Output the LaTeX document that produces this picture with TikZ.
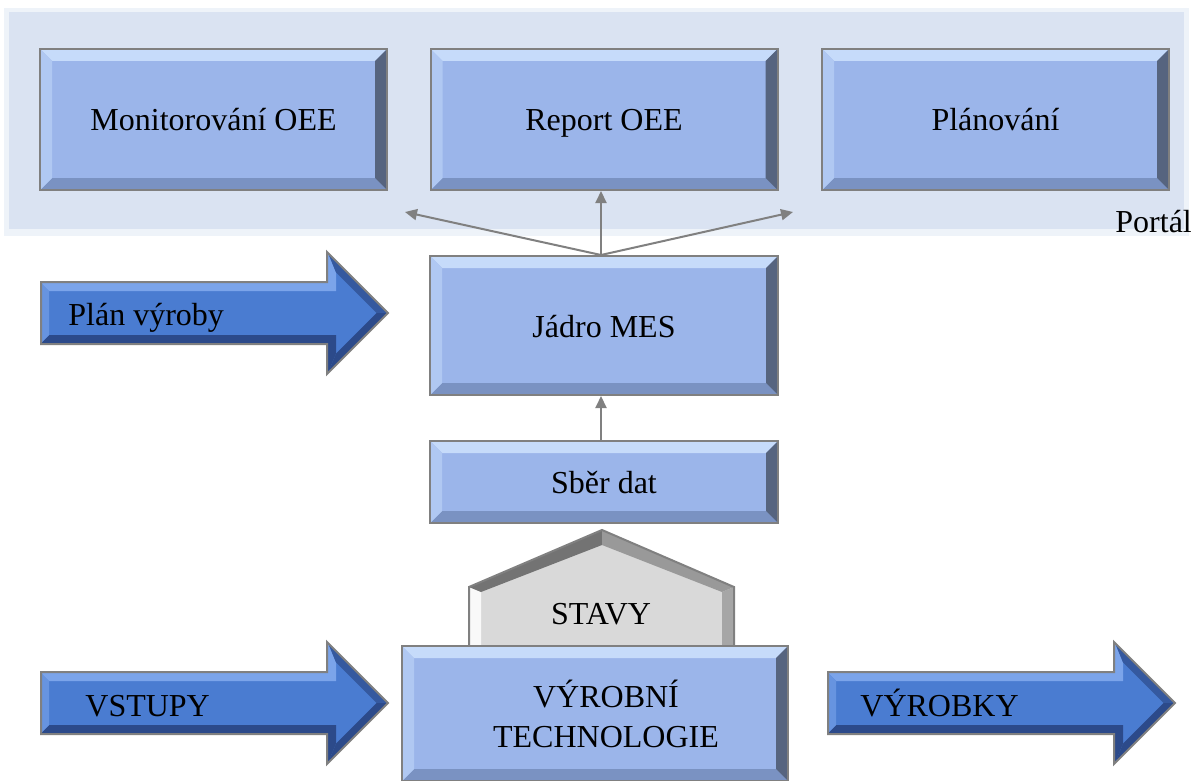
\documentclass[tikz,border=0pt]{standalone}
\usepackage{fontspec}
\setmainfont{Liberation Serif}
\usetikzlibrary{shapes.arrows, arrows.meta, positioning}
\definecolor{portalbg}{HTML}{DAE3F2}
\definecolor{boxblue}{HTML}{9BB5EA}
\definecolor{boxtop}{HTML}{C6DBFA}
\definecolor{boxleft}{HTML}{B0C8F2}
\definecolor{boxbot}{HTML}{7A92C2}
\definecolor{boxright}{HTML}{56647F}
\definecolor{arrblue}{HTML}{4A7CD1}
\definecolor{arrlight}{HTML}{7BA4EA}
\definecolor{arrdark}{HTML}{2C4A8A}
\definecolor{edgegray}{HTML}{808080}
\definecolor{stavgray}{HTML}{D9D9D9}
\newcommand{\ppb}{path picture bounding box}

\tikzset{
  txt/.style={font=\fontsize{16}{19}\selectfont, inner sep=0pt, text height=12pt, text depth=0.5pt},
  bevelbox/.style={txt, draw=edgegray, line width=1pt, fill=boxblue,
    path picture={
      \fill[boxtop] (\ppb.north west) -- (\ppb.north east) -- ([shift={(-6pt,-6pt)}]\ppb.north east) -- ([shift={(6pt,-6pt)}]\ppb.north west) -- cycle;
      \fill[boxbot] (\ppb.south west) -- (\ppb.south east) -- ([shift={(-6pt,6pt)}]\ppb.south east) -- ([shift={(6pt,6pt)}]\ppb.south west) -- cycle;
      \fill[boxleft] (\ppb.north west) -- ([shift={(6pt,-6pt)}]\ppb.north west) -- ([shift={(6pt,6pt)}]\ppb.south west) -- (\ppb.south west) -- cycle;
      \fill[boxright] (\ppb.north east) -- ([shift={(-6pt,-6pt)}]\ppb.north east) -- ([shift={(-6pt,6pt)}]\ppb.south east) -- (\ppb.south east) -- cycle;
    }},
  topbox/.style={bevelbox, minimum width=173.5pt, minimum height=70.5pt},
  bluearrow/.style={single arrow, draw=edgegray, line width=1pt, fill=arrblue,
    inner xsep=0pt, inner ysep=15pt, minimum height=173.5pt,
    single arrow head extend=15pt, anchor=tail,
    path picture={
      \fill[arrlight] (\ppb.west) ++(0pt,15pt) -- ++(143.5pt,0pt) -- ++(0pt,15pt) -- ++(4pt,-9.7pt) -- ++(0pt,-9.3pt) -- ++(-143.5pt,0pt) -- cycle;
      \fill[arrdark] (\ppb.west) ++(0pt,-15pt) -- ++(143.5pt,0pt) -- ++(0pt,-15pt) -- ++(4pt,9.7pt) -- ++(0pt,9.3pt) -- ++(-143.5pt,0pt) -- cycle;
      \fill[arrlight!60!arrblue] (\ppb.west) ++(0pt,15pt) -- ++(4pt,-4pt) -- ++(0pt,-22pt) -- ++(-4pt,-4pt) -- cycle;
      \fill[arrdark!70!arrblue] (\ppb.west) ++(143.5pt,30pt) -- ++(30pt,-30pt) -- ++(-5.7pt,0pt) -- ++(-20.3pt,20.3pt) -- cycle;
      \fill[arrdark] (\ppb.west) ++(143.5pt,-30pt) -- ++(30pt,30pt) -- ++(-5.7pt,0pt) -- ++(-20.3pt,-20.3pt) -- cycle;
    }},
  link/.style={draw=edgegray, line width=1pt, -{Triangle[length=6pt, width=5.5pt]}}
}

\begin{document}
\begin{tikzpicture}[x=0.5pt, y=-0.5pt]
\useasboundingbox (0,0) rectangle (1193,781);

% portal
\fill[portalbg!45!white] (4,8) rectangle (1189,236);
\fill[portalbg] (9,12) rectangle (1184,229);
\node[txt, anchor=base west] (portal) at (1115,232) {Portál};

\node[topbox] (monitor) at (213.5,119.5) {Monitorování OEE};
\node[topbox] (report) at (604,119.5) {Report OEE};
\node[topbox] (planovani) at (995.5,119.5) {Plánování};

% core
\node[bevelbox, minimum width=174pt, minimum height=69.5pt] (jadro) at (604,325.5) {Jádro MES};
\node[bevelbox, minimum width=174pt, minimum height=41pt] (sber) at (604,482) {Sběr dat};

\coordinate (fork) at (601,255);
\coordinate (toleft) at (405,212);
\coordinate (toright) at (793,212);
\draw[link] (fork) -- (toleft);
\draw[link] (fork) -- (report.south -| fork);
\draw[link] (fork) -- (toright);
\draw[link] (sber.north -| fork) -- (jadro.south -| fork);

% states
\fill[stavgray] (469,646) -- (469,587) -- (602,530) -- (734,587) -- (734,646) -- cycle;
\fill[white!85!stavgray] (469,646) -- (469,587) -- (481,592) -- (481,646) -- cycle;
\fill[black!55] (469,587) -- (602,530) -- (602,545) -- (481,592) -- cycle;
\fill[black!40] (602,530) -- (734,587) -- (722,592) -- (602,545) -- cycle;
\fill[black!35] (734,587) -- (734,646) -- (722,646) -- (722,592) -- cycle;
\draw[edgegray, line width=1pt] (469,646) -- (469,587) -- (602,530) -- (734,587) -- (734,646);
\node[txt] (stavy) at (601,613) {STAVY};

\node[bevelbox, minimum width=193pt, minimum height=67.5pt] (technologie) at (595,713.5) {};
\node[font=\fontsize{16}{19}\selectfont, inner sep=0pt, align=center, anchor=base] (techtxt) at (606,747) {VÝROBNÍ\\[1pt]TECHNOLOGIE};

% flows
\node[bluearrow] (planvyroby) at (40,313) {};
\node[txt, anchor=base west] (plantxt) at (68,325) {Plán výroby};
\node[bluearrow] (vstupy) at (40,703) {};
\node[txt, anchor=base west] (vstupytxt) at (85,716) {VSTUPY};
\node[bluearrow] (vyrobky) at (827,703) {};
\node[txt, anchor=base west] (vyrobkytxt) at (860,716) {VÝROBKY};
\end{tikzpicture}
\end{document}
